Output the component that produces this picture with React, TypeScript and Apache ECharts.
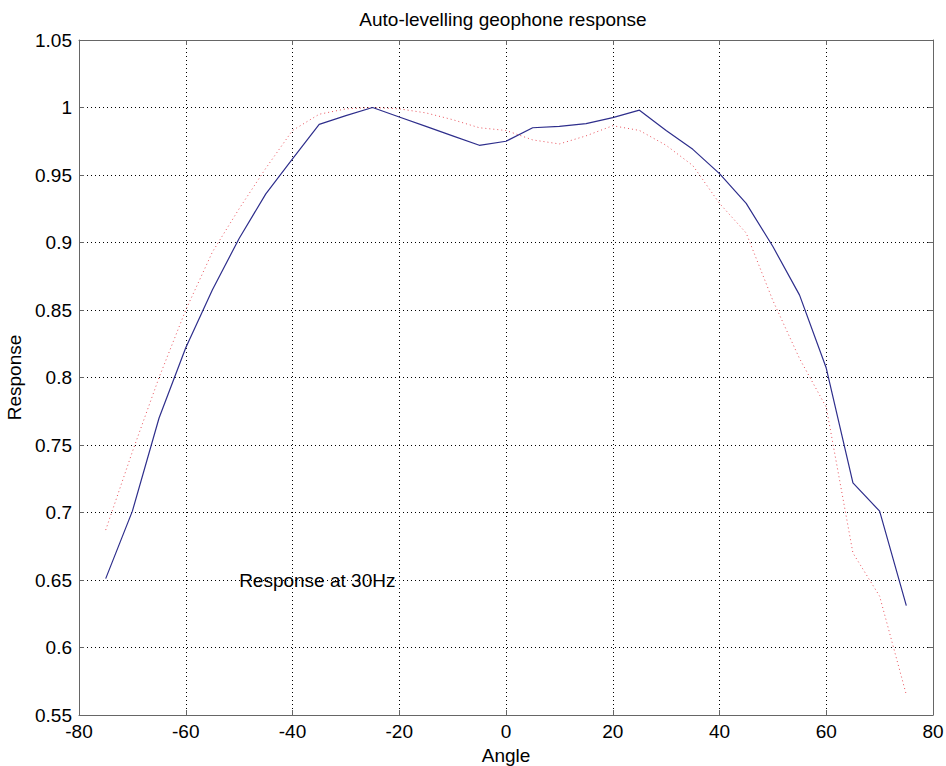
import React, { useEffect, useRef } from "react";
import * as echarts from "echarts";

const angles = [-75, -70, -65, -60, -55, -50, -45, -40, -35, -30, -25, -20, -15, -10, -5, 0, 5, 10, 15, 20, 25, 30, 35, 40, 45, 50, 55, 60, 65, 70, 75];
const blueResponse = [0.651, 0.701, 0.770, 0.822, 0.865, 0.903, 0.936, 0.962, 0.9875, 0.994, 1.0, 0.993, 0.986, 0.979, 0.972, 0.975, 0.985, 0.986, 0.988, 0.9925, 0.998, 0.983, 0.969, 0.951, 0.929, 0.897, 0.861, 0.807, 0.722, 0.701, 0.631];
const redResponse = [0.687, 0.745, 0.800, 0.850, 0.893, 0.925, 0.955, 0.983, 0.995, 0.999, 1.0, 0.999, 0.996, 0.991, 0.985, 0.983, 0.976, 0.973, 0.979, 0.9865, 0.983, 0.972, 0.957, 0.929, 0.907, 0.857, 0.814, 0.778, 0.670, 0.638, 0.565];
const annotation = { x: -50, y: 0.65, text: "Response at 30Hz" };
const titleText = "Auto-levelling geophone response";
const xName = "Angle";
const yName = "Response";

const FONT = "'Liberation Sans', Arial, sans-serif";

export default function App() {
  const ref = useRef<HTMLDivElement>(null);
  useEffect(() => {
    if (!ref.current) return;
    const chart = echarts.init(ref.current, undefined, { renderer: "svg" });
    const axisColor = "#666";
    const grid = { left: 79, right: 13, top: 40, bottom: 51, containLabel: false, outerBoundsMode: "none" };
    const splitLine = { show: true, lineStyle: { color: "#000", width: 1, type: [1, 3] as any } };
    chart.setOption({
      animation: false,
      backgroundColor: "#fff",
      grid,
      graphic: [
        {
          type: "text",
          x: 503,
          y: 19,
          style: { text: titleText, fontSize: 19, fontFamily: FONT, fill: "#000", textAlign: "center", textVerticalAlign: "middle" },
        },
      ],
      xAxis: [
        {
          type: "value",
          min: -80,
          max: 80,
          interval: 20,
          position: "bottom",
          name: xName,
          nameLocation: "middle",
          nameGap: 31,
          nameTextStyle: { fontSize: 19, fontFamily: FONT, color: "#000" },
          axisLine: { show: true, onZero: false, lineStyle: { color: axisColor, width: 1 } },
          axisTick: { show: true, inside: true, length: 5, lineStyle: { color: axisColor } },
          axisLabel: { fontSize: 19, fontFamily: FONT, color: "#000", margin: 7 },
          splitLine,
        },
        {
          type: "value",
          min: -80,
          max: 80,
          interval: 20,
          position: "top",
          axisLine: { show: true, onZero: false, lineStyle: { color: axisColor, width: 1 } },
          axisTick: { show: true, inside: true, length: 5, lineStyle: { color: axisColor } },
          axisLabel: { show: false },
          splitLine: { show: false },
        },
      ],
      yAxis: [
        {
          type: "value",
          min: 0.55,
          max: 1.05,
          interval: 0.05,
          position: "left",
          name: yName,
          nameLocation: "middle",
          nameGap: 52,
          nameRotate: 90,
          nameTextStyle: { fontSize: 19, fontFamily: FONT, color: "#000" },
          axisLine: { show: true, onZero: false, lineStyle: { color: axisColor, width: 1 } },
          axisTick: { show: true, inside: true, length: 5, lineStyle: { color: axisColor } },
          axisLabel: {
            fontSize: 19,
            fontFamily: FONT,
            color: "#000",
            margin: 7,
            formatter: (v: number) => String(Math.round(v * 100) / 100),
          },
          splitLine,
        },
        {
          type: "value",
          min: 0.55,
          max: 1.05,
          interval: 0.05,
          position: "right",
          axisLine: { show: true, onZero: false, lineStyle: { color: axisColor, width: 1 } },
          axisTick: { show: true, inside: true, length: 5, lineStyle: { color: axisColor } },
          axisLabel: { show: false },
          splitLine: { show: false },
        },
      ],
      series: [
        {
          type: "line",
          name: "blue",
          xAxisIndex: 0,
          yAxisIndex: 0,
          data: angles.map((a, i) => [a, blueResponse[i]]),
          showSymbol: false,
          symbol: "none",
          lineStyle: { color: "#2e2e8c", width: 1.2 },
          z: 3,
        },
        {
          type: "line",
          name: "red",
          xAxisIndex: 0,
          yAxisIndex: 0,
          data: angles.map((a, i) => [a, redResponse[i]]),
          showSymbol: false,
          symbol: "none",
          lineStyle: { color: "#e8505a", width: 1, type: [1, 3] as any },
          z: 2,
        },
        {
          type: "scatter",
          name: "annotation",
          xAxisIndex: 0,
          yAxisIndex: 0,
          data: [[annotation.x, annotation.y]],
          symbolSize: 0,
          silent: true,
          itemStyle: { opacity: 1 },
          label: {
            show: true,
            position: [0, 0],
            align: "left",
            verticalAlign: "middle",
            formatter: annotation.text,
            fontSize: 19,
            fontFamily: FONT,
            color: "#000",
            opacity: 1,
          },
          z: 4,
        },
      ],
    });
    return () => chart.dispose();
  }, []);
  return <div ref={ref} style={{ position: "absolute", left: 0, top: 0, width: 946, height: 766 }} />;
}
